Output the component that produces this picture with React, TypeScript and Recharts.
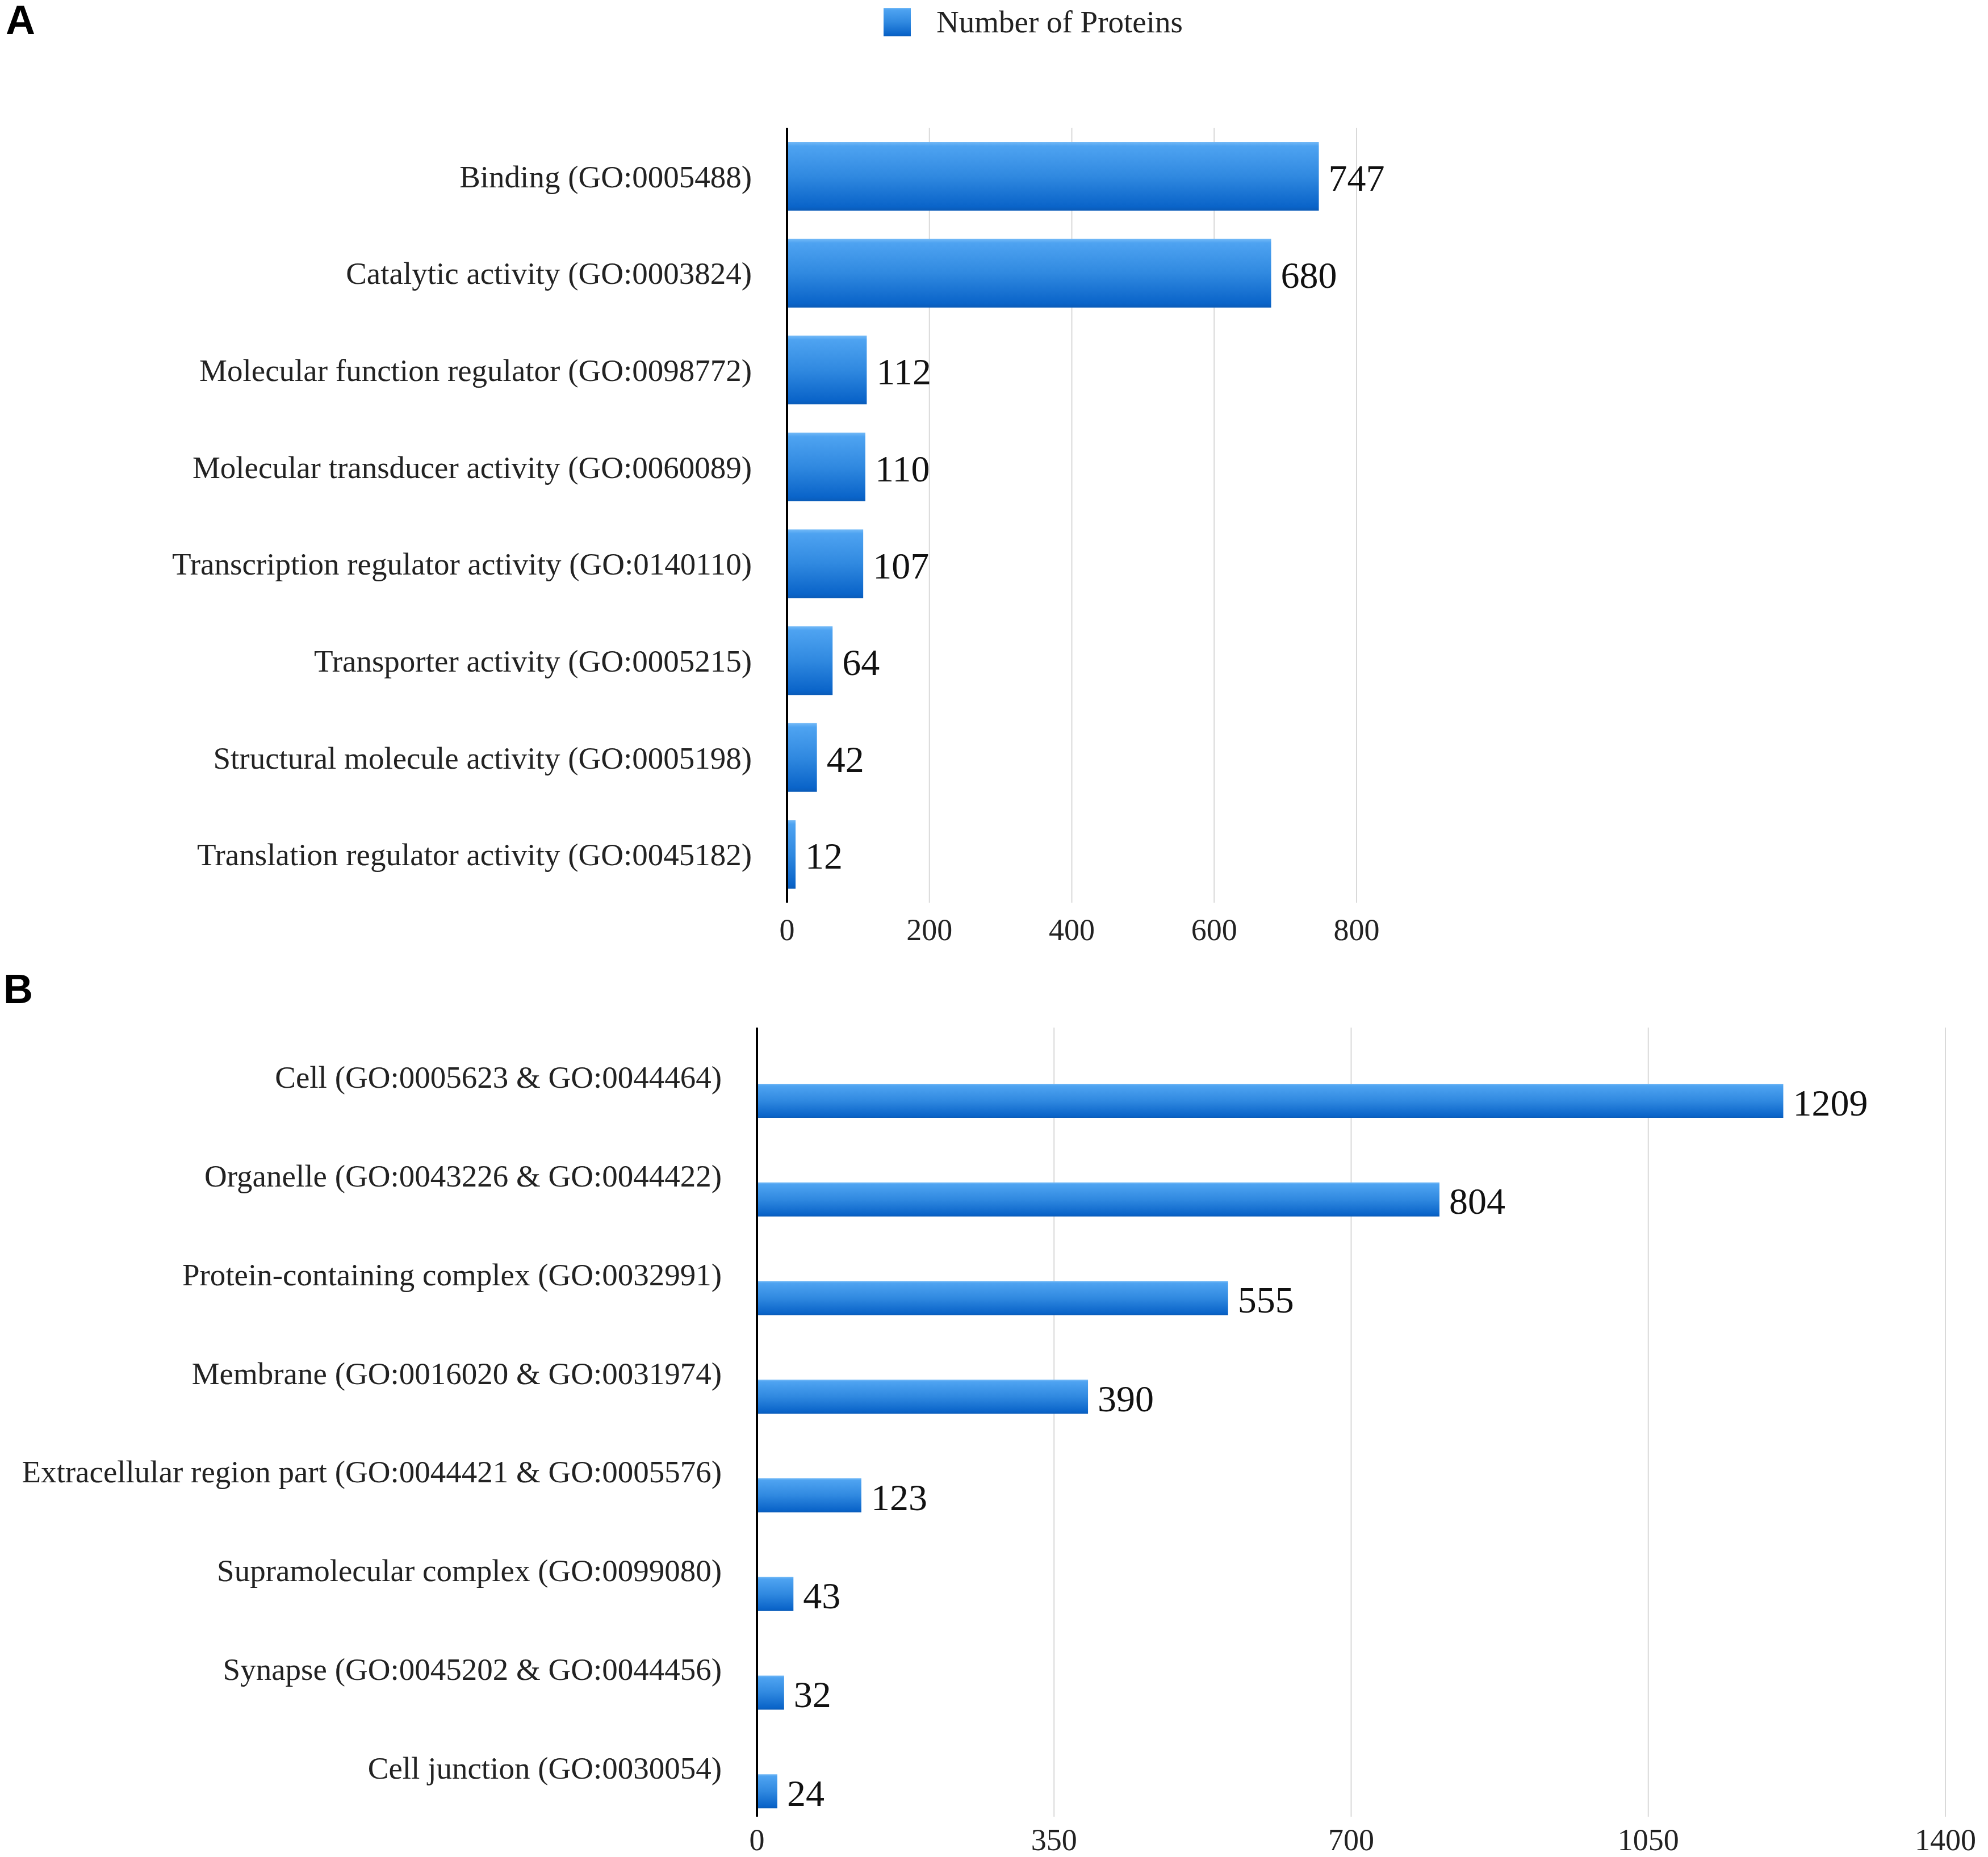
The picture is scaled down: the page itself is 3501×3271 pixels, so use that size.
import { Bar, BarChart, CartesianGrid, LabelList, Rectangle, XAxis, YAxis } from "recharts";

const catsA = [
  "Binding (GO:0005488)",
  "Catalytic activity (GO:0003824)",
  "Molecular function regulator (GO:0098772)",
  "Molecular transducer activity (GO:0060089)",
  "Transcription regulator activity (GO:0140110)",
  "Transporter activity (GO:0005215)",
  "Structural molecule activity (GO:0005198)",
  "Translation regulator activity (GO:0045182)",
];
const valuesA = [747, 680, 112, 110, 107, 64, 42, 12];
const ticksA = [0, 200, 400, 600, 800];

const catsB = [
  "Cell (GO:0005623 & GO:0044464)",
  "Organelle (GO:0043226 & GO:0044422)",
  "Protein-containing complex (GO:0032991)",
  "Membrane (GO:0016020 & GO:0031974)",
  "Extracellular region part (GO:0044421 & GO:0005576)",
  "Supramolecular complex (GO:0099080)",
  "Synapse (GO:0045202 & GO:0044456)",
  "Cell junction (GO:0030054)",
];
const valuesB = [1209, 804, 555, 390, 123, 43, 32, 24];
const ticksB = [0, 350, 700, 1050, 1400];

const seriesName = "Number of Proteins";

const dataA = catsA.map((name, i) => ({ name, value: valuesA[i] }));
const dataB = catsB.map((name, i) => ({ name, value: valuesB[i] }));

const font = "'Liberation Serif', 'Times New Roman', serif";
const W = 3501;
const B_SHIFT = 42;

const tickStyle = { fontFamily: font, fontSize: 54, fill: "#222" };

function Gradient({ id }: { id: string }) {
  return (
    <defs>
      <linearGradient id={id} x1="0" y1="0" x2="0" y2="1">
        <stop offset="0" stopColor="#74baf7" />
        <stop offset="0.06" stopColor="#4ea3f1" />
        <stop offset="0.5" stopColor="#3089e0" />
        <stop offset="0.94" stopColor="#0a64c9" />
        <stop offset="1" stopColor="#0a5bb8" />
      </linearGradient>
    </defs>
  );
}

function valueLabel(shift: number) {
  return (props: any) => {
    const { x, y, width, height, value } = props;
    return (
      <text
        x={x + width + 17}
        y={y + height / 2 + shift + 3}
        dominantBaseline="central"
        fontFamily={font}
        fontSize={66}
        fill="#111"
      >
        {value}
      </text>
    );
  };
}

const shiftedBar = (props: any) => <Rectangle {...props} y={props.y + B_SHIFT} />;

export default function App() {
  return (
    <div style={{ position: "absolute", left: 0, top: 0, width: W, height: 3271, background: "#fff" }}>
      <div
        style={{
          position: "absolute", left: 10, top: -1, fontFamily: "'Liberation Sans', Arial, sans-serif",
          fontWeight: "bold", fontSize: 72, lineHeight: "72px",
        }}
      >
        A
      </div>
      <div
        style={{
          position: "absolute", left: 6, top: 1706, fontFamily: "'Liberation Sans', Arial, sans-serif",
          fontWeight: "bold", fontSize: 72, lineHeight: "72px",
        }}
      >
        B
      </div>
      <div style={{ position: "absolute", left: 1556, top: 14, display: "flex", alignItems: "center" }}>
        <svg width={48} height={50}>
          <Gradient id="legGrad" />
          <rect width={48} height={50} fill="url(#legGrad)" />
        </svg>
        <span style={{ fontFamily: font, fontSize: 55, marginLeft: 45, color: "#222", lineHeight: "50px" }}>
          {seriesName}
        </span>
      </div>

      <div style={{ position: "absolute", left: 0, top: 0 }}>
        <BarChart
          width={W}
          height={1700}
          data={dataA}
          layout="vertical"
          margin={{ top: 225, right: W - 2389, bottom: 0, left: 0 }}
        >
          <Gradient id="barGradA" />
          <CartesianGrid horizontal={false} stroke="#d9d9d9" strokeWidth={2} />
          <XAxis
            type="number"
            domain={[0, 800]}
            ticks={ticksA}
            axisLine={false}
            tickLine={false}
            tickSize={0}
            tickMargin={28}
            height={110}
            tick={tickStyle}
          />
          <YAxis
            type="category"
            dataKey="name"
            width={1386}
            axisLine={{ stroke: "#000", strokeWidth: 4 }}
            tickLine={false}
            tickSize={0}
            tickMargin={62}
            tick={{ ...tickStyle, fontSize: 55 }}
            interval={0}
          />
          <Bar dataKey="value" name={seriesName} fill="url(#barGradA)" barSize={121} isAnimationActive={false}>
            <LabelList dataKey="value" content={valueLabel(0)} />
          </Bar>
        </BarChart>
      </div>

      <div style={{ position: "absolute", left: 0, top: 1700 }}>
        <BarChart
          width={W}
          height={1571}
          data={dataB}
          layout="vertical"
          margin={{ top: 110, right: W - 3426, bottom: 0, left: 0 }}
        >
          <Gradient id="barGradB" />
          <CartesianGrid horizontal={false} stroke="#d9d9d9" strokeWidth={2} />
          <XAxis
            type="number"
            domain={[0, 1400]}
            ticks={ticksB}
            axisLine={false}
            tickLine={false}
            tickSize={0}
            tickMargin={21}
            height={71}
            tick={tickStyle}
          />
          <YAxis
            type="category"
            dataKey="name"
            width={1333}
            axisLine={{ stroke: "#000", strokeWidth: 4 }}
            tickLine={false}
            tickSize={0}
            tickMargin={62}
            tick={{ ...tickStyle, fontSize: 55 }}
            interval={0}
          />
          <Bar
            dataKey="value"
            name={seriesName}
            fill="url(#barGradB)"
            barSize={60}
            shape={shiftedBar}
            isAnimationActive={false}
          >
            <LabelList dataKey="value" content={valueLabel(B_SHIFT)} />
          </Bar>
        </BarChart>
      </div>
    </div>
  );
}
